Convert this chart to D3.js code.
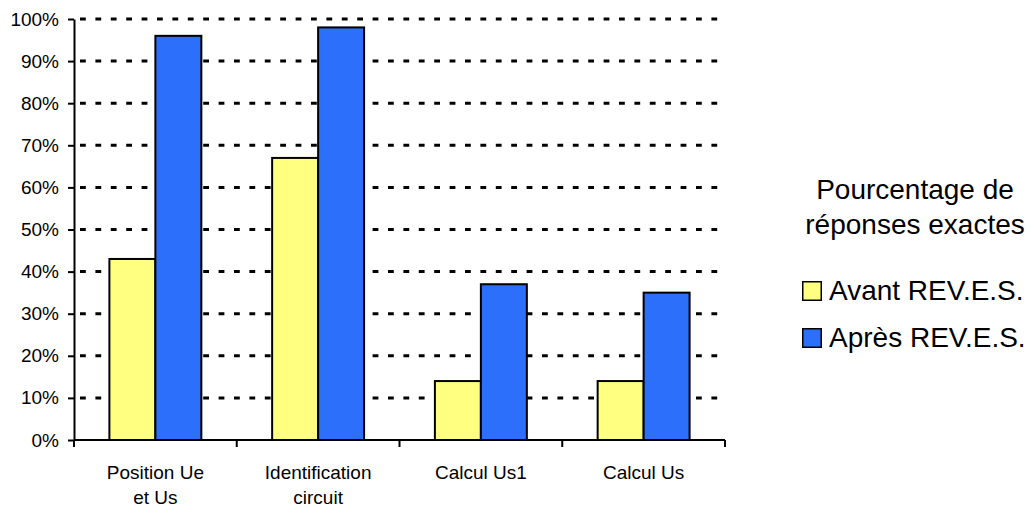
<!DOCTYPE html>
<html>
<head>
<meta charset="utf-8">
<script src="https://cdn.jsdelivr.net/npm/d3@7"></script>
<style>
  html, body { margin: 0; padding: 0; background: #fff; }
  svg { display: block; font-family: "Liberation Sans", Arial, sans-serif; }
</style>
</head>
<body>
<svg id="chart" width="1036" height="508"></svg>
<script>
const categories = ["Position Ue\net Us", "Identification\ncircuit", "Calcul Us1", "Calcul Us"];
const seriesNames = ["Avant REV.E.S.", "Après REV.E.S."];
const avantValues = [0.43, 0.67, 0.14, 0.14];
const apresValues = [0.96, 0.98, 0.37, 0.35];
const seriesColors = ["#FFFF80", "#2B6FFA"];
const yTickValues = [0, 0.1, 0.2, 0.3, 0.4, 0.5, 0.6, 0.7, 0.8, 0.9, 1.0];
const legendTitle = ["Pourcentage de", "réponses exactes"];

(function () {
const seriesValues = [avantValues, apresValues];
const data = categories.map((c, i) => ({
  cat: c,
  values: seriesNames.map((s, j) => ({ series: s, value: seriesValues[j][i], color: seriesColors[j] }))
}));

const svg = d3.select("#chart");
const plotLeft = 74, plotRight = 725, plotTop = 19, plotBottom = 440;

const x0 = d3.scaleBand().domain(categories).range([plotLeft, plotRight]).padding(0);
const x1 = d3.scaleBand().domain(seriesNames).range([0, x0.bandwidth()]).paddingInner(0).paddingOuter(0.77);
const y = d3.scaleLinear().domain([0, 1]).range([plotBottom, plotTop]);

// gridlines
svg.append("g").selectAll("line")
  .data(yTickValues.filter(v => v > 0))
  .join("line")
  .attr("x1", plotLeft + 6).attr("x2", plotRight)
  .attr("y1", d => y(d)).attr("y2", d => y(d))
  .attr("stroke", "#000").attr("stroke-width", 3)
  .attr("stroke-dasharray", "5.8,9.6");

// bars
const groups = svg.append("g").selectAll("g")
  .data(data).join("g")
  .attr("transform", d => `translate(${x0(d.cat)},0)`);
groups.selectAll("rect")
  .data(d => d.values).join("rect")
  .attr("x", d => x1(d.series))
  .attr("width", x1.bandwidth())
  .attr("y", d => y(d.value))
  .attr("height", d => y(0) - y(d.value))
  .attr("fill", d => d.color)
  .attr("stroke", "#000").attr("stroke-width", 2);

// y axis
const yAxis = d3.axisLeft(y).tickValues(yTickValues).tickFormat(d3.format(".0%")).tickSizeInner(6).tickSizeOuter(0).tickPadding(9);
const gy = svg.append("g").attr("transform", `translate(${plotLeft},0)`).call(yAxis);
gy.select(".domain").attr("stroke", "#000").attr("stroke-width", 2);
gy.selectAll(".tick line").attr("stroke", "#000").attr("stroke-width", 2);
gy.selectAll(".tick text").attr("font-size", 19).attr("fill", "#000").attr("font-family", "Liberation Sans, Arial, sans-serif");

// x axis
const gx = svg.append("g").attr("transform", `translate(0,${plotBottom})`);
gx.append("line").attr("x1", plotLeft).attr("x2", plotRight).attr("y1", 0).attr("y2", 0)
  .attr("stroke", "#000").attr("stroke-width", 2);
const boundaries = categories.map(c => x0(c)).concat([x0(categories[categories.length - 1]) + x0.bandwidth()]);
gx.selectAll("line.tk").data(boundaries).join("line").attr("class", "tk")
  .attr("x1", d => d).attr("x2", d => d).attr("y1", 0).attr("y2", 7)
  .attr("stroke", "#000").attr("stroke-width", 2);
gx.selectAll("text.cl").data(categories).join("text").attr("class", "cl")
  .attr("x", d => x0(d) + x0.bandwidth() / 2)
  .attr("y", 39)
  .attr("text-anchor", "middle")
  .attr("font-size", 19).attr("fill", "#000")
  .each(function(d) {
    const lines = d.split("\n");
    d3.select(this).selectAll("tspan").data(lines).join("tspan")
      .attr("x", x0(d) + x0.bandwidth() / 2)
      .attr("dy", (l, i) => i === 0 ? 0 : 25)
      .text(l => l);
  });

// legend
const lg = svg.append("g");
lg.selectAll("text.title").data(legendTitle).join("text").attr("class", "title")
  .attr("x", 915).attr("y", (d, i) => 199 + i * 35)
  .attr("text-anchor", "middle").attr("font-size", 28).attr("fill", "#000")
  .text(d => d);
const items = lg.selectAll("g.item").data(seriesNames).join("g").attr("class", "item")
  .attr("transform", (d, i) => `translate(802,${281 + i * 47})`);
items.append("rect").attr("x", 0.75).attr("y", 0.75).attr("width", 18.5).attr("height", 18.5)
  .attr("fill", (d, i) => seriesColors[i]).attr("stroke", "#000").attr("stroke-width", 1.5);
items.append("text").attr("x", 27).attr("y", 19)
  .attr("font-size", 28).attr("fill", "#000").text(d => d);
})();
</script>
</body>
</html>
